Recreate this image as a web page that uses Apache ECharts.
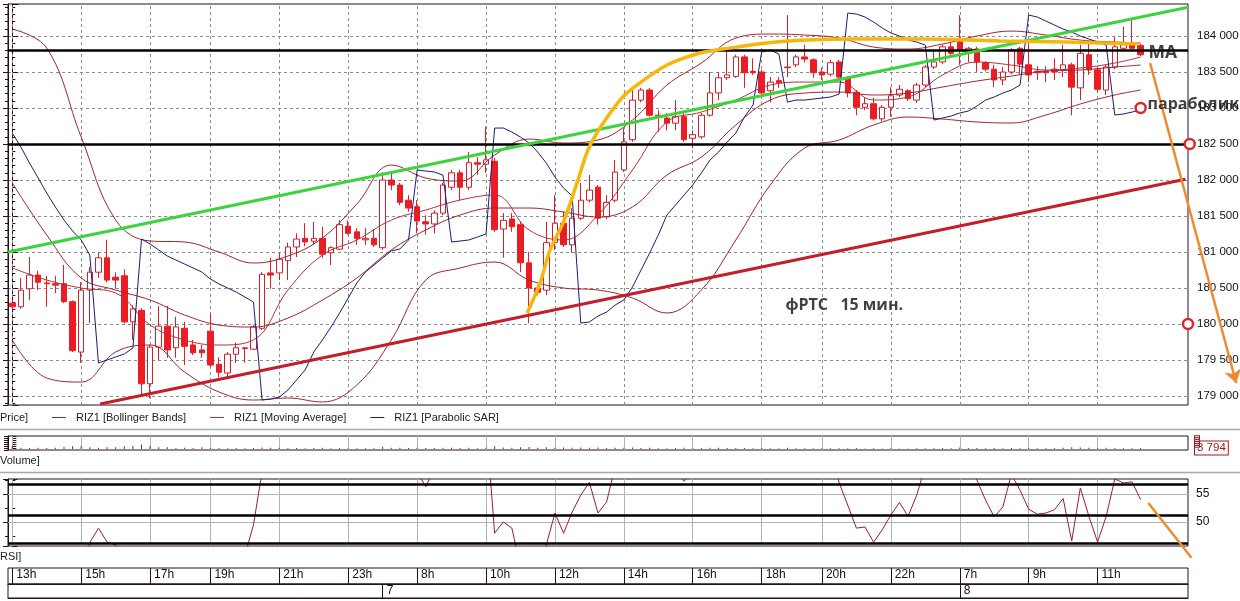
<!DOCTYPE html>
<html><head><meta charset="utf-8">
<script src="https://cdn.jsdelivr.net/npm/echarts@6/dist/echarts.min.js"></script>
<style>html,body{margin:0;padding:0;background:#fff}#c{width:1240px;height:601px}</style>
</head><body><div id="c"></div>
<script>
// ---------- sessions / categories (day/HH:MM, 15-minute bars) ----------
const sessions = [
  ['6', '13:00', '18:30'], ['6', '19:00', '23:45'],
  ['7', '07:00', '18:30'], ['7', '19:00', '23:45'],
  ['8', '07:00', '13:30']
];
function expandSession(s) {
  const out = []; let [h, m] = s[1].split(':').map(Number); const [eh, em] = s[2].split(':').map(Number);
  while (h * 60 + m <= eh * 60 + em) { out.push(s[0] + '/' + String(h).padStart(2, '0') + ':' + String(m).padStart(2, '0')); m += 15; if (m >= 60) { m -= 60; h++; } }
  return out;
}
const categories = sessions.flatMap(expandSession);
const hourTicks = ['6/13:00','6/15:00','6/17:00','6/19:00','6/21:00','6/23:00','7/08:00','7/10:00','7/12:00','7/14:00','7/16:00','7/18:00','7/20:00','7/22:00','8/07:00','8/09:00','8/11:00'];
const dayTicks = ['7/07:00', '8/07:00'];

// ---------- price candles: [open, close, low, high] ----------
const ohlc = [
[180290,180240,180190,180330],[180240,180470,180210,180640],[180490,180680,180330,180930],[180680,180580,180470,180740],
[180570,180560,180240,180670],[180560,180540,180430,180670],[180560,180310,180290,180820],[180310,179630,179610,180330],
[179610,180470,179460,180580],[180470,180720,180010,180790],[180720,180920,180640,180990],[180920,180610,180580,181170],
[180650,180610,180490,180720],[180670,180030,180010,180760],[180030,180210,179780,180260],[180190,179170,179000,180220],
[179170,179680,178970,179710],[179680,179970,179500,180250],[179970,179640,179530,180250],[179670,179960,179530,180100],
[179940,179690,179430,180030],[179710,179600,179570,179780],[179640,179600,179530,179710],[179900,179430,179400,180150],
[179440,179330,179260,179540],[179320,179580,179260,179610],[179580,179670,179460,179740],[179660,179670,179460,179680],
[179650,179960,179640,179990],[179940,180690,179920,180720],[180710,180680,180490,180920],[180710,180900,180610,180990],
[180880,181070,180610,181130],[181070,181180,180930,181260],[181190,181140,181080,181400],[181150,181190,181100,181420],
[181190,180970,180920,181350],[180990,181060,180820,181080],[181040,181380,181030,181440],[181360,181260,181240,181440],
[181280,181190,181100,181330],[181170,181190,181100,181330],[181190,181100,181070,181320],[181060,182000,181030,182110],
[182000,181930,181860,182100],[181930,181690,181650,181960],[181720,181610,181560,181790],[181630,181430,181260,181720],
[181420,181390,181240,181510],[181390,181540,181260,181580],[181540,181930,181510,181960],[181900,182100,181860,182140],
[182100,181900,181720,182140],[181900,182240,181860,182390],[182240,182220,182070,182320],[182220,182280,182100,182740],
[182260,181310,181280,182310],[181320,181440,180920,181540],[181460,181350,181280,181540],[181380,180850,180720,181420],
[180850,180500,180010,181000],[180500,180440,180400,180540],[180470,181130,180400,181420],[181130,181400,181030,181790],
[181400,181100,181070,181560],[181100,181470,180990,181610],[181470,181720,181440,181960],[181720,181860,181690,182070],
[181900,181470,181380,181930],[181490,181690,181460,181790],[181720,182110,181690,182280],[182140,182530,182110,182720],
[182560,183110,182530,183250],[183110,183250,183080,183280],[183250,182900,182880,183280],[182900,182880,182670,182970],
[182860,182790,182690,182930],[182790,182880,182690,183110],[182880,182560,182530,182930],[182580,182630,182440,182690],
[182600,182900,182570,182930],[182900,183210,182880,183500],[183210,183420,183110,183500],[183420,183460,183390,183810],
[183440,183710,183420,183740],[183710,183490,183280,183740],[183510,183490,183460,183690],[183500,183210,183180,183530],
[183240,183360,183080,183430],[183380,183350,183280,183430],[183560,183570,183430,184290],[183600,183710,183570,183740],
[183710,183680,183630,183880],[183670,183490,183420,183690],[183500,183460,183390,183560],[183470,183630,183440,183670],
[183640,183430,183400,183670],[183420,183210,183150,183440],[183220,183010,182900,183250],[183010,183060,182970,183140],
[183060,182850,182830,183140],[182850,183010,182820,183040],[183010,183170,182880,183290],[183180,183260,183150,183320],
[183240,183130,183100,183260],[183110,183320,183070,183350],[183320,183570,183290,183600],[183570,183640,183540,183810],
[183640,183850,183610,183880],[183850,183760,183720,183920],[183920,183810,183600,184290],[183780,183830,183640,183850],
[183820,183640,183500,183850],[183630,183540,183510,183650],[183540,183390,183290,183600],[183390,183500,183320,183570],
[183500,183810,183470,183830],[183830,183610,183460,183850],[183600,183460,183360,183900],[183510,183490,183390,183580],
[183510,183490,183360,183580],[183540,183500,183390,183690],[183530,183600,183430,183880],[183600,183290,182900,183630],
[183280,183760,183110,183880],[183740,183530,183460,183900],[183530,183260,183220,183560],[183250,183570,183180,183600],
[183570,183850,183540,183990],[183830,183880,183810,184130],[183880,183830,183810,184220],[183870,183740,183720,183890]
];

// ---------- indicators ----------
const sar = [182653,182458,182236,182028,181819,181625,181444,181292,181167,180958,
 179458,179500,179542,179583,179667,181181,181111,181028,180944,180889,
 180833,180778,180722,180625,180556,180500,180444,180375,180306,178944,
 178958,178986,179083,179222,179361,179611,179778,179958,180153,180361,
 180569,180722,180819,180917,181014,181042,181167,182139,182125,182111,
 182069,181139,181153,181167,181208,181250,182722,182722,182667,182597,
 182514,182389,182236,182042,181889,181778,180014,180028,180111,180167,
 180264,180333,180514,180750,180986,181236,181514,181653,181792,181931,
 182097,182278,182389,182528,182653,182875,183042,183778,183806,183750,
 183083,183111,183111,183125,183139,183153,183194,184319,184306,184264,
 184194,184111,184042,184000,183944,183917,183875,182833,182861,182889,
 182931,182958,183028,183111,183153,183208,183250,183319,184292,184264,
 184208,184153,184097,184056,184000,183958,183917,183875,182903,182917,
 182944,182972];
// [bar index, value]
const bbUpper = [[0,184097],[4,183833],[8,182597],[12,181444],[16,181153],[20,181139],[24,181000],[28,180847],[32,180944],[36,181194],[40,181667],[44,182208],[48,182028],[52,181986],[56,182347],[60,182569],[64,182514],[68,182556],[72,182833],[76,183319],[80,183625],[84,183972],[88,184028],[92,184014],[96,183972],[100,183847],[104,183819],[108,183889],[112,184000],[116,184069],[120,184014],[124,183944],[128,183917],[131,183903]];
const bbMiddle = [[0,181958],[4,181236],[8,180639],[12,180472],[16,180333],[20,180125],[24,179986],[28,179958],[32,180083],[36,180333],[40,180639],[44,181028],[48,181306],[52,181514],[56,181611],[60,181611],[64,181556],[68,181486],[72,181625],[76,182069],[80,182319],[84,182764],[88,183111],[92,183208],[96,183222],[100,183181],[104,183208],[108,183292],[112,183375],[116,183444],[120,183514],[124,183528],[128,183569],[131,183597]];
const bbLower = [[0,179778],[4,179250],[8,179194],[12,179611],[16,179708],[20,179333],[24,179056],[28,178944],[32,178972],[36,178917],[40,179153],[44,179778],[48,180611],[52,180778],[56,180861],[60,180611],[64,180500],[68,180472],[72,180361],[76,180153],[80,180472],[84,181167],[88,181931],[92,182444],[96,182556],[100,182764],[104,182875],[108,182847],[112,182806],[116,182792],[120,182903],[124,183056],[128,183181],[131,183250]];
const movingAvg = [[0,180778],[4,180611],[8,180500],[12,180431],[16,179986],[20,179778],[24,179708],[28,179778],[32,180472],[36,180958],[40,181167],[44,181444],[48,181583],[52,181722],[56,181792],[60,181306],[64,181167],[68,181514],[72,182139],[76,182806],[80,182944],[84,183111],[88,183319],[92,183361],[96,183361],[100,183111],[104,183153],[108,183458],[112,183639],[116,183597],[120,183528],[124,183556],[128,183625],[131,183708]];

const volume = [15000,6000,4500,6000,4500,6000,9000,12000,15000,7500,
 6000,7500,7500,12000,15000,20000,15000,7500,7500,4500,
 6000,4500,7500,6000,4000,3500,4000,3000,4500,7000,
 5000,6000,4000,4500,3500,4000,5000,3500,4000,3000,
 3500,3000,3500,10000,6000,5000,4500,6000,4000,4500,
 6000,5000,4500,6000,3500,6000,12000,7000,5000,8000,
 9000,5000,8000,6000,7000,6000,7000,5000,7000,4500,
 6000,6000,7000,4000,6000,3500,3500,4000,5000,3500,
 4000,6000,5000,4000,4500,4500,3000,4000,3500,3000,
 5000,3500,3000,3500,3000,3000,3500,3500,4000,2500,
 3000,2500,3000,2500,2500,3000,3500,3000,4000,3000,
 7000,4000,4500,3500,4000,3000,4000,3500,4000,3000,
 3000,3000,6000,8000,7000,5000,4000,5000,4000,3500,
 3500,3794];

const rsi = [38,36,40,39,38,38,36,30,40,46.3,
 48.9,46.4,45.9,38,40,32,36,40,38,40,
 38,37,37,35,34,38,40,44,49.5,59,
 66,68,70,72,70,70,64,65,68,66,
 64,64,62,75,73,68,64,59,56.3,59.5,
 66,70,64,68,67,68,48,50,48.9,42,
 35,35,45.9,51.6,48,51.8,54.8,57.1,51.6,53.6,
 60,66,72,74,66,65,63,60,57.3,59,
 62,68,72,72,75,68,68,62,63,62,
 66,68,67,63,62,64,57,53,48.9,49.1,
 46.4,48.6,51.25,53.5,51,54.8,60,62,66,63,
 62,60,57.5,53.9,50.9,52.7,58.5,55.7,52.3,51.4,
 51.6,52.2,54.2,46.6,56.1,51,46.4,51,57.7,57,
 57.2,54];

// ---------- hand-drawn annotations (data coordinates: bar index, price) ----------
const greenLine = [[-0.5,181000],[136.5,184400]];
const redLine = [[10.2,178890],[136.2,182010]];
const yellowCurve = [[59.76,180153],[61.27,180569],[62.43,181028],[63.94,181403],[65.56,181958],[66.84,182417],[68.23,182722],[70.56,183111],[72.07,183278],[76.02,183597],[79.85,183764],[82.51,183819],[87.62,183903],[92.27,183944],[97.26,183958],[105.39,183958],[114.67,183931],[122.45,183917],[130.7,183889]];
const orangeArrow = [[132.1,183625],[142.1,179180]];
const rsiArrow = [[131.9,53.4],[136.9,43.6]];
const priceLevels = [183800, 182500];
const rsiLevels = [56.8, 51.25, 46.25];
const rsiGridValues = [50, 55];
const circles = [[131,183000],[136.7,182500],[136.5,180000]];
const noteText = ['MA', 'параболик', 'фРТС   15 мин.'];
const noteAt = [[131.85,183764],[131.75,183056],[89.7,180257]];

// ---------- chart ----------
const FONT = '"Liberation Sans", Arial, sans-serif';
const SMALL = '"Liberation Sans Narrow", "Liberation Sans", sans-serif';
const DARK = '#2b0f1f';
const GRIDC = '#8c8c8c';
const LOWGRID = '#b4b4b4';
const BBC = '#a3232e', MAC = '#b5303a', SARC = '#1c1c78';
const fmtK = v => { const s = String(Math.round(v)); return s.length > 3 ? s.slice(0, s.length - 3) + ' ' + s.slice(-3) : s; };
const hourSet = new Set(hourTicks), daySet = new Set(dayTicks);
const tickIdx = hourTicks.map(c => categories.indexOf(c));
const vGridCat = () => hourTicks.map(c => ({ xAxis: c }));
const dashed = () => ({ color: GRIDC, type: [3, 3], width: 1 });
const lastClose = ohlc[ohlc.length - 1][1];
const lastVol = volume[volume.length - 1];
const noteSizes = [17.5, 16, 16];
const boxStyle = () => ({ color: '#a4161c', fontSize: 11.5, fontFamily: FONT, borderColor: '#a4161c', borderWidth: 1, padding: [1, 2, 0, 2], backgroundColor: '#fff' });

const xMin = -0.5, xMax = categories.length - 0.5;
const catAxis = (gi) => ({ type: 'category', gridIndex: gi, data: categories, show: false, boundaryGap: true });
const valX = (gi) => ({ type: 'value', gridIndex: gi, min: xMin, max: xMax, show: false });
const priceMin = 178875, priceMax = 184445;
const volMin = -5000, volMax = 60000;
const rsiMin = 45.7, rsiMax = 57.7;
const panelVerticals = (yMin, yMax) => tickIdx.map(i => ({ coords: [[i, yMin], [i, yMax]] }));
const panelTitle = (t, top) => ({ text: t, left: 0, top: top, padding: 0, textStyle: { fontSize: 11, fontWeight: 'normal', color: '#222', fontFamily: SMALL } });

const chart = echarts.init(document.getElementById('c'), null, { renderer: 'canvas', width: 1240, height: 601 });
chart.setOption({
  animation: false,
  backgroundColor: '#ffffff',
  textStyle: { fontFamily: FONT },
  title: [panelTitle('Price]', 412), panelTitle('Volume]', 455), panelTitle('RSI]', 551)],
  legend: {
    left: 52, top: 412, padding: 0, icon: 'rect', itemWidth: 14, itemHeight: 1, itemGap: 24,
    textStyle: { fontSize: 11, color: '#222', fontFamily: SMALL, padding: [0, 0, 0, 5] },
    data: [
      { name: 'RIZ1 [Bollinger Bands]', itemStyle: { color: BBC }, lineStyle: { color: BBC } },
      { name: 'RIZ1 [Moving Average]', itemStyle: { color: MAC }, lineStyle: { color: MAC } },
      { name: 'RIZ1 [Parabolic SAR]', itemStyle: { color: SARC }, lineStyle: { color: SARC } }
    ]
  },
  graphic: [
    { type: 'line', shape: { x1: 0, y1: 429.5, x2: 1240, y2: 429.5 }, style: { stroke: '#a8a8a8', lineWidth: 1.5 }, silent: true },
    { type: 'line', shape: { x1: 0, y1: 472.5, x2: 1240, y2: 472.5 }, style: { stroke: '#a8a8a8', lineWidth: 1.5 }, silent: true }
  ],
  grid: [
    { left: 8, top: 4, width: 1180, height: 401, show: true, backgroundColor: 'transparent', borderColor: DARK, borderWidth: 1, containLabel: false, outerBoundsMode: 'none' },
    { left: 8, top: 436, width: 1180, height: 14, show: true, backgroundColor: 'transparent', borderColor: DARK, borderWidth: 1, containLabel: false, outerBoundsMode: 'none' },
    { left: 8, top: 479, width: 1180, height: 67, show: true, backgroundColor: 'transparent', borderColor: DARK, borderWidth: 1, containLabel: false, outerBoundsMode: 'none' },
    { left: 8, top: 568, width: 1180, height: 16, show: true, backgroundColor: 'transparent', borderColor: DARK, borderWidth: 1, containLabel: false, outerBoundsMode: 'none' },
    { left: 8, top: 584, width: 1180, height: 14, show: true, backgroundColor: 'transparent', borderColor: DARK, borderWidth: 1, containLabel: false, outerBoundsMode: 'none' }
  ],
  xAxis: [
    catAxis(0), valX(0), catAxis(1), catAxis(2), valX(2),
    { type: 'category', gridIndex: 3, data: categories, boundaryGap: true, position: 'bottom',
      axisLine: { show: true, lineStyle: { color: DARK, width: 1 } },
      axisTick: { show: true, inside: true, alignWithLabel: true, length: 16, interval: (i, v) => hourSet.has(v), lineStyle: { color: DARK } },
      axisLabel: { show: true, inside: true, margin: 3, interval: (i, v) => hourSet.has(v), align: 'left', padding: [0, 0, 0, 4],
        formatter: v => parseInt(v.split('/')[1], 10) + 'h', fontSize: 12, color: '#111', fontFamily: FONT },
      splitLine: { show: false } },
    { type: 'category', gridIndex: 4, data: categories, boundaryGap: true, position: 'bottom',
      axisLine: { show: true, lineStyle: { color: DARK, width: 1 } },
      axisTick: { show: true, inside: true, alignWithLabel: true, length: 14, interval: (i, v) => daySet.has(v), lineStyle: { color: DARK } },
      axisLabel: { show: true, inside: true, margin: 1, interval: (i, v) => daySet.has(v), align: 'left', padding: [0, 0, 0, 4],
        formatter: v => v.split('/')[0], fontSize: 12, color: '#111', fontFamily: FONT },
      splitLine: { show: false } },
    valX(1)
  ],
  yAxis: [
    { type: 'value', gridIndex: 0, position: 'right', min: priceMin, max: priceMax, splitNumber: 11,
      axisLine: { show: true, lineStyle: { color: DARK } },
      axisTick: { show: true, length: 6, lineStyle: { color: DARK } },
      minorTick: { show: true, splitNumber: 5, length: 3, lineStyle: { color: DARK } },
      axisLabel: { margin: 9, fontSize: 11.5, color: '#111', fontFamily: FONT, formatter: fmtK, showMinLabel: false, showMaxLabel: false },
      splitLine: { show: true, lineStyle: dashed() } },
    { type: 'value', gridIndex: 0, position: 'left', min: priceMin, max: priceMax, splitNumber: 11,
      axisLine: { show: true, lineStyle: { color: DARK } },
      axisTick: { show: true, length: 5, lineStyle: { color: DARK } },
      minorTick: { show: true, splitNumber: 5, length: 3, lineStyle: { color: DARK } },
      axisLabel: { show: false }, splitLine: { show: false } },
    { type: 'value', gridIndex: 1, position: 'right', min: volMin, max: volMax, interval: lastVol - volMin,
      axisLine: { show: true, lineStyle: { color: DARK } },
      axisTick: { show: true, length: 4, lineStyle: { color: DARK } },
      axisLabel: Object.assign({ show: true, margin: 7, formatter: v => (Math.abs(v - lastVol) < 1 ? fmtK(v) : ''), showMinLabel: false, showMaxLabel: false }, boxStyle()),
      splitLine: { show: false } },
    { type: 'value', gridIndex: 2, position: 'right', min: rsiMin, max: rsiMax, splitNumber: 2,
      axisLine: { show: true, lineStyle: { color: DARK } },
      axisTick: { show: true, length: 5, lineStyle: { color: DARK } },
      minorTick: { show: true, splitNumber: 2, length: 3, lineStyle: { color: DARK } },
      axisLabel: { margin: 8, fontSize: 12, color: '#111', fontFamily: FONT, showMinLabel: false, showMaxLabel: false },
      splitLine: { show: false } },
    { type: 'value', gridIndex: 2, position: 'left', min: rsiMin, max: rsiMax, splitNumber: 2,
      axisLine: { show: true, lineStyle: { color: DARK } },
      axisTick: { show: true, length: 5, lineStyle: { color: DARK } },
      minorTick: { show: true, splitNumber: 2, length: 3, lineStyle: { color: DARK } },
      axisLabel: { show: false }, splitLine: { show: false } },
    { type: 'value', gridIndex: 3, show: false },
    { type: 'value', gridIndex: 4, show: false },
    { type: 'value', gridIndex: 1, position: 'left', min: volMin, max: volMax, interval: lastVol - volMin,
      axisLine: { show: true, lineStyle: { color: DARK } },
      axisTick: { show: true, length: 4, lineStyle: { color: DARK } },
      axisLabel: { show: false }, splitLine: { show: false } }
  ],
  series: [
    { type: 'candlestick', name: 'Price', xAxisIndex: 0, yAxisIndex: 0, data: ohlc, barWidth: 6, z: 2,
      itemStyle: { color: '#ffffff', color0: '#ec1c24', borderColor: '#d0202a', borderColor0: '#ec1c24', borderColorDoji: '#d0202a', borderWidth: 1 },
      markLine: { silent: true, symbol: 'none', z: 1, label: { show: false }, lineStyle: dashed(), data: vGridCat() } },
    { type: 'line', name: 'RIZ1 [Bollinger Bands]', xAxisIndex: 1, yAxisIndex: 0, data: bbUpper, smooth: 0.4, symbol: 'none', color: BBC, lineStyle: { color: BBC, width: 1 }, z: 3 },
    { type: 'line', name: 'RIZ1 [Bollinger Bands]', xAxisIndex: 1, yAxisIndex: 0, data: bbMiddle, smooth: 0.4, symbol: 'none', color: BBC, lineStyle: { color: BBC, width: 1 }, z: 3 },
    { type: 'line', name: 'RIZ1 [Bollinger Bands]', xAxisIndex: 1, yAxisIndex: 0, data: bbLower, smooth: 0.4, symbol: 'none', color: BBC, lineStyle: { color: BBC, width: 1 }, z: 3 },
    { type: 'line', name: 'RIZ1 [Moving Average]', xAxisIndex: 1, yAxisIndex: 0, data: movingAvg, smooth: 0.4, symbol: 'none', color: MAC, lineStyle: { color: MAC, width: 1 }, z: 3 },
    { type: 'line', name: 'RIZ1 [Parabolic SAR]', xAxisIndex: 0, yAxisIndex: 0, data: sar, symbol: 'none', color: SARC, lineStyle: { color: SARC, width: 1 }, z: 3 },
    { type: 'line', xAxisIndex: 1, yAxisIndex: 0, data: greenLine, symbol: 'none', lineStyle: { color: '#3cd43c', width: 3 }, z: 5, silent: true,
      markLine: { silent: true, symbol: 'none', z: 4, label: { show: false }, lineStyle: { color: '#000', width: 2.5, type: 'solid' }, data: priceLevels.map(v => ({ yAxis: v })) } },
    { type: 'line', xAxisIndex: 1, yAxisIndex: 0, data: redLine, symbol: 'none', lineStyle: { color: '#c41e2a', width: 3 }, z: 5, silent: true,
      markLine: { silent: true, symbol: 'none', z: 8, lineStyle: { opacity: 0 }, label: Object.assign({ show: true, position: 'end', distance: 5, formatter: fmtK(lastClose) }, boxStyle()), data: [{ yAxis: lastClose }] } },
    { type: 'line', xAxisIndex: 1, yAxisIndex: 0, data: yellowCurve, smooth: 0.35, symbol: 'none', lineStyle: { color: '#f6b70c', width: 3.5 }, z: 5, silent: true },
    { type: 'lines', coordinateSystem: 'cartesian2d', xAxisIndex: 1, yAxisIndex: 0, clip: false, silent: true, z: 6,
      symbol: ['none', 'arrow'], symbolSize: [0, 13], lineStyle: { color: '#f08a30', width: 2.5, opacity: 1 }, data: [{ coords: orangeArrow }] },
    { type: 'scatter', xAxisIndex: 1, yAxisIndex: 0, data: circles, symbolSize: 10, clip: false, silent: true, z: 7,
      itemStyle: { color: '#ffffff', borderColor: '#e3262b', borderWidth: 2.5, opacity: 1 } },
    { type: 'scatter', xAxisIndex: 1, yAxisIndex: 0, clip: false, silent: true, z: 8, symbolSize: 1,
      itemStyle: { color: 'rgba(0,0,0,0)' },
      label: { show: true, position: 'right', distance: 0, formatter: '{b}', color: '#111', fontWeight: 'bold', fontFamily: '"Open Sans", sans-serif' },
      data: noteText.map((t, k) => ({ name: t, value: noteAt[k], label: { fontSize: noteSizes[k] } })) },
    // volume panel
    { type: 'lines', coordinateSystem: 'cartesian2d', xAxisIndex: 7, yAxisIndex: 2, silent: true, z: 4, symbol: 'none',
      lineStyle: { color: LOWGRID, width: 1, type: 'solid', opacity: 1 }, data: panelVerticals(volMin, volMax) },
    { type: 'bar', xAxisIndex: 2, yAxisIndex: 2, data: volume, barWidth: 1, itemStyle: { color: '#8c1c2c' }, silent: true, z: 5 },
    // RSI panel
    { type: 'lines', coordinateSystem: 'cartesian2d', xAxisIndex: 4, yAxisIndex: 3, silent: true, z: 4, symbol: 'none',
      lineStyle: { color: LOWGRID, width: 1, type: 'solid', opacity: 1 },
      data: panelVerticals(rsiMin, rsiMax).concat(rsiGridValues.map(v => ({ coords: [[xMin, v], [xMax, v]] }))) },
    { type: 'line', xAxisIndex: 3, yAxisIndex: 3, data: rsi, symbol: 'none', lineStyle: { color: '#a01c28', width: 1 }, z: 5, silent: true },
    { type: 'line', xAxisIndex: 3, yAxisIndex: 3, data: [], silent: true, z: 6,
      markLine: { silent: true, symbol: 'none', z: 6, label: { show: false }, lineStyle: { color: '#000', width: 2.5, type: 'solid' },
        data: rsiLevels.map(v => ({ yAxis: v })) } },
    { type: 'lines', coordinateSystem: 'cartesian2d', xAxisIndex: 4, yAxisIndex: 3, clip: false, silent: true, z: 7,
      symbol: 'none', lineStyle: { color: '#f08a30', width: 2.5, opacity: 1 }, data: [{ coords: rsiArrow }] }
  ]
});
</script></body></html>
